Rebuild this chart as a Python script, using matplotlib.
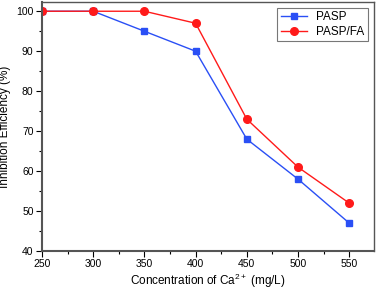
import matplotlib
matplotlib.use("Agg")
import matplotlib.pyplot as plt
from matplotlib.ticker import MultipleLocator

# datos
conc = [250, 300, 350, 400, 450, 500, 550]
pasp = [100, 100, 95, 90, 68, 58, 47]
pasp_fa = [100, 100, 100, 97, 73, 61, 52]

plt.rcParams['font.family'] = ['Liberation Sans', 'DejaVu Sans']
plt.rcParams['mathtext.fontset'] = 'custom'
plt.rcParams['mathtext.rm'] = 'Liberation Sans'
plt.rcParams['mathtext.it'] = 'Liberation Sans:italic'

fig = plt.figure(figsize=(3.78, 2.92), dpi=100)
ax = fig.add_axes([0.111, 0.140, 0.878, 0.853])

ax.plot(conc, pasp, color='#2a4ff5', marker='s', markersize=4.5, lw=1.0, label='PASP')
ax.plot(conc, pasp_fa, color='#ff1a1a', marker='o', markersize=5.5, lw=1.0, label='PASP/FA')

ax.set_xlim(250, 574)
ax.set_ylim(40, 102.3)
ax.xaxis.set_major_locator(MultipleLocator(50))
ax.xaxis.set_minor_locator(MultipleLocator(25))
ax.yaxis.set_major_locator(MultipleLocator(10))
ax.yaxis.set_minor_locator(MultipleLocator(5))
ax.tick_params(which='both', direction='out', top=False, right=False, labelsize=7.5, width=0.8, pad=2)
ax.tick_params(which='major', length=4)
ax.tick_params(which='minor', length=2.5)

for s in ['left', 'bottom']:
    ax.spines[s].set_linewidth(1.5)
    ax.spines[s].set_color('#555555')
for s in ['top', 'right']:
    ax.spines[s].set_linewidth(1.0)
    ax.spines[s].set_color('#555555')

ax.set_xlabel(r'Concentration of Ca$^{\mathrm{2+}}$ (mg/L)', fontsize=8.5, labelpad=2)
ax.set_ylabel('Inhibition Efficiency (%)', fontsize=8.5, labelpad=4)

leg = ax.legend(loc='upper right', fontsize=8.5, fancybox=False, edgecolor='#555555',
                handlelength=2.2, borderaxespad=0.5, borderpad=0.3, labelspacing=0.2)
leg.get_frame().set_linewidth(0.8)

fig.savefig('out.png', dpi=100)
